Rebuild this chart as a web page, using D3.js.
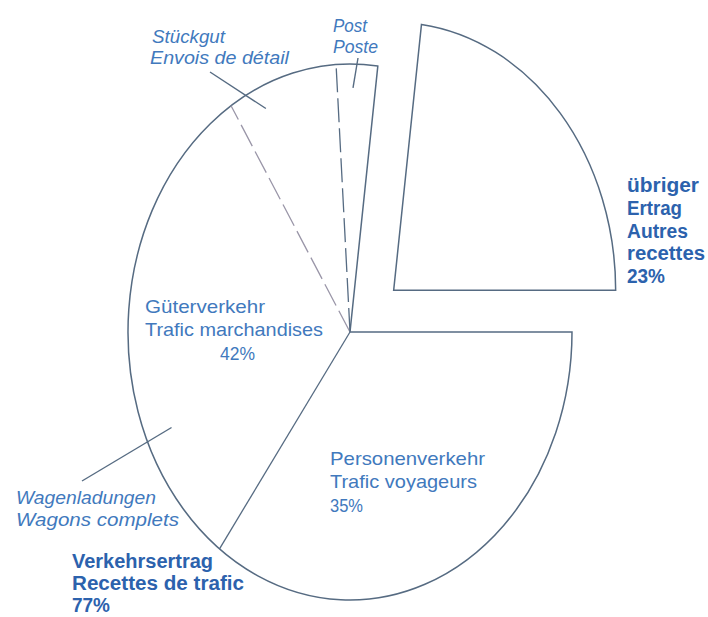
<!DOCTYPE html>
<html>
<head>
<meta charset="utf-8">
<script src="https://cdn.jsdelivr.net/npm/d3@7"></script>
<style>
  html, body { margin: 0; padding: 0; background: #ffffff; }
  svg { display: block; }
</style>
</head>
<body>
<svg id="chart" width="708" height="617"></svg>
<script>
// ---- data ----
const mainCategories = ["Personenverkehr", "Güterverkehr", "übriger Ertrag"];
const mainValues = [35, 42, 23];
const freightCategories = ["Wagenladungen", "Stückgut", "Post"];
const freightValues = [31, 8, 3];
const trafficShare = 77;

// ---- layout ----
const W = 708, H = 617;
const cx = 350, cy = 332, rx = 222, ry = 268;
const explodeDist = 60;
const lineColor = "#566b82";
const textColor = "#4179bd";
const boldColor = "#2c62ad";

const svg = d3.select("#chart");

// elliptical scales (unit circle -> ellipse)
const xs = d3.scaleLinear().domain([-1, 1]).range([cx - rx, cx + rx]);
const ys = d3.scaleLinear().domain([-1, 1]).range([cy - ry, cy + ry]);
const pt = a => [xs(Math.sin(a)), ys(-Math.cos(a))];

function sectorPath(a0, a1) {
  const p0 = pt(a0), p1 = pt(a1);
  const large = (a1 - a0) > Math.PI ? 1 : 0;
  return `M${cx},${cy}L${p0[0]},${p0[1]}A${rx},${ry} 0 ${large} 1 ${p1[0]},${p1[1]}Z`;
}

const pie = d3.pie().sort(null).startAngle(Math.PI / 2).endAngle(Math.PI / 2 + 2 * Math.PI);
const arcs = pie(mainValues);
const personen = arcs[0], gueter = arcs[1], uebrig = arcs[2];

const subPie = d3.pie().sort(null).startAngle(gueter.startAngle).endAngle(gueter.endAngle);
const subArcs = subPie(freightValues);

const g = svg.append("g");

// outline of the traffic-revenue part (Personen + Güter)
g.append("path")
  .attr("d", sectorPath(personen.startAngle, gueter.endAngle))
  .attr("fill", "none")
  .attr("stroke", lineColor)
  .attr("stroke-width", 1.5)
  .attr("stroke-linejoin", "miter");

// boundary between Personenverkehr and Güterverkehr
{
  const p = pt(personen.endAngle);
  g.append("line")
    .attr("x1", cx).attr("y1", cy)
    .attr("x2", p[0]).attr("y2", p[1])
    .attr("stroke", lineColor)
    .attr("stroke-width", 1.3);
}

// dashed sub-divisions inside Güterverkehr
subArcs.slice(0, 2).forEach((a, i) => {
  const p = pt(a.endAngle);
  g.append("line")
    .attr("x1", cx).attr("y1", cy)
    .attr("x2", p[0]).attr("y2", p[1])
    .attr("stroke", i === 0 ? "#9a96a8" : lineColor)
    .attr("stroke-width", 1.3)
    .attr("stroke-dasharray", "24,6");
});

// exploded slice
const mid = (uebrig.startAngle + uebrig.endAngle) / 2;
const ex = Math.sin(mid) * explodeDist * 0.97, ey = -Math.cos(mid) * explodeDist * 1.05;
g.append("path")
  .attr("transform", `translate(${ex},${ey})`)
  .attr("d", sectorPath(uebrig.startAngle, uebrig.endAngle))
  .attr("fill", "none")
  .attr("stroke", lineColor)
  .attr("stroke-width", 1.5)
  .attr("stroke-linejoin", "miter");

// leader lines (anchored on the ellipse at given angles)
function leader(angleDeg, outX, outY, inner) {
  const a = angleDeg * Math.PI / 180;
  const p = pt(a);
  const dx = p[0] - outX, dy = p[1] - outY;
  const len = Math.hypot(dx, dy);
  const ix = p[0] + dx / len * inner, iy = p[1] + dy / len * inner;
  g.append("line")
    .attr("x1", outX).attr("y1", outY)
    .attr("x2", ix).attr("y2", iy)
    .attr("stroke", lineColor)
    .attr("stroke-width", 1.4);
}
const deg = r => r * 180 / Math.PI;
// Stückgut
leader(deg(subArcs[1].startAngle) + 4.4, 210, 72, 24);
// Post
leader(deg((subArcs[2].startAngle + subArcs[2].endAngle) / 2), 358, 58, 24);
// Wagenladungen
leader(245.8, 82, 481, 28);

// ---- labels ----
const labels = [
  // [text, x, y, width, bold, italic]
  ["Post", 333, 32, 34, false, true],
  ["Poste", 333, 53, 45, false, true],
  ["Stückgut", 152, 43, 73, false, true],
  ["Envois de détail", 150, 64, 139, false, true],
  ["übriger", 627, 192, 72, true, false],
  ["Ertrag", 627, 215, 55, true, false],
  ["Autres", 627, 238, 61, true, false],
  ["recettes", 627, 260, 78, true, false],
  [mainValues[2] + "%", 627, 283, 38, true, false],
  ["Personenverkehr", 330, 465, 155, false, false],
  ["Trafic voyageurs", 330, 488, 147, false, false],
  [mainValues[0] + "%", 330, 512, 33, false, false],
  ["Güterverkehr", 145, 313, 120, false, false],
  ["Trafic marchandises", 145, 336, 178, false, false],
  [mainValues[1] + "%", 220, 360, 35, false, false],
  ["Wagenladungen", 16, 504, 140, false, true],
  ["Wagons complets", 16, 526, 163, false, true],
  ["Verkehrsertrag", 72, 568, 141, true, false],
  ["Recettes de trafic", 72, 590, 172, true, false],
  [trafficShare + "%", 72, 612, 38, true, false]
];

svg.append("g").selectAll("text")
  .data(labels)
  .join("text")
  .attr("x", d => d[1])
  .attr("y", d => d[2])
  .attr("textLength", d => d[3])
  .attr("lengthAdjust", "spacingAndGlyphs")
  .attr("font-family", "'Liberation Sans', Arial, sans-serif")
  .attr("font-size", d => d[4] ? 20 : 19)
  .attr("font-weight", d => d[4] ? "bold" : "normal")
  .attr("font-style", d => d[5] ? "italic" : "normal")
  .attr("fill", d => d[4] ? boldColor : textColor)
  .text(d => d[0]);
</script>
</body>
</html>
